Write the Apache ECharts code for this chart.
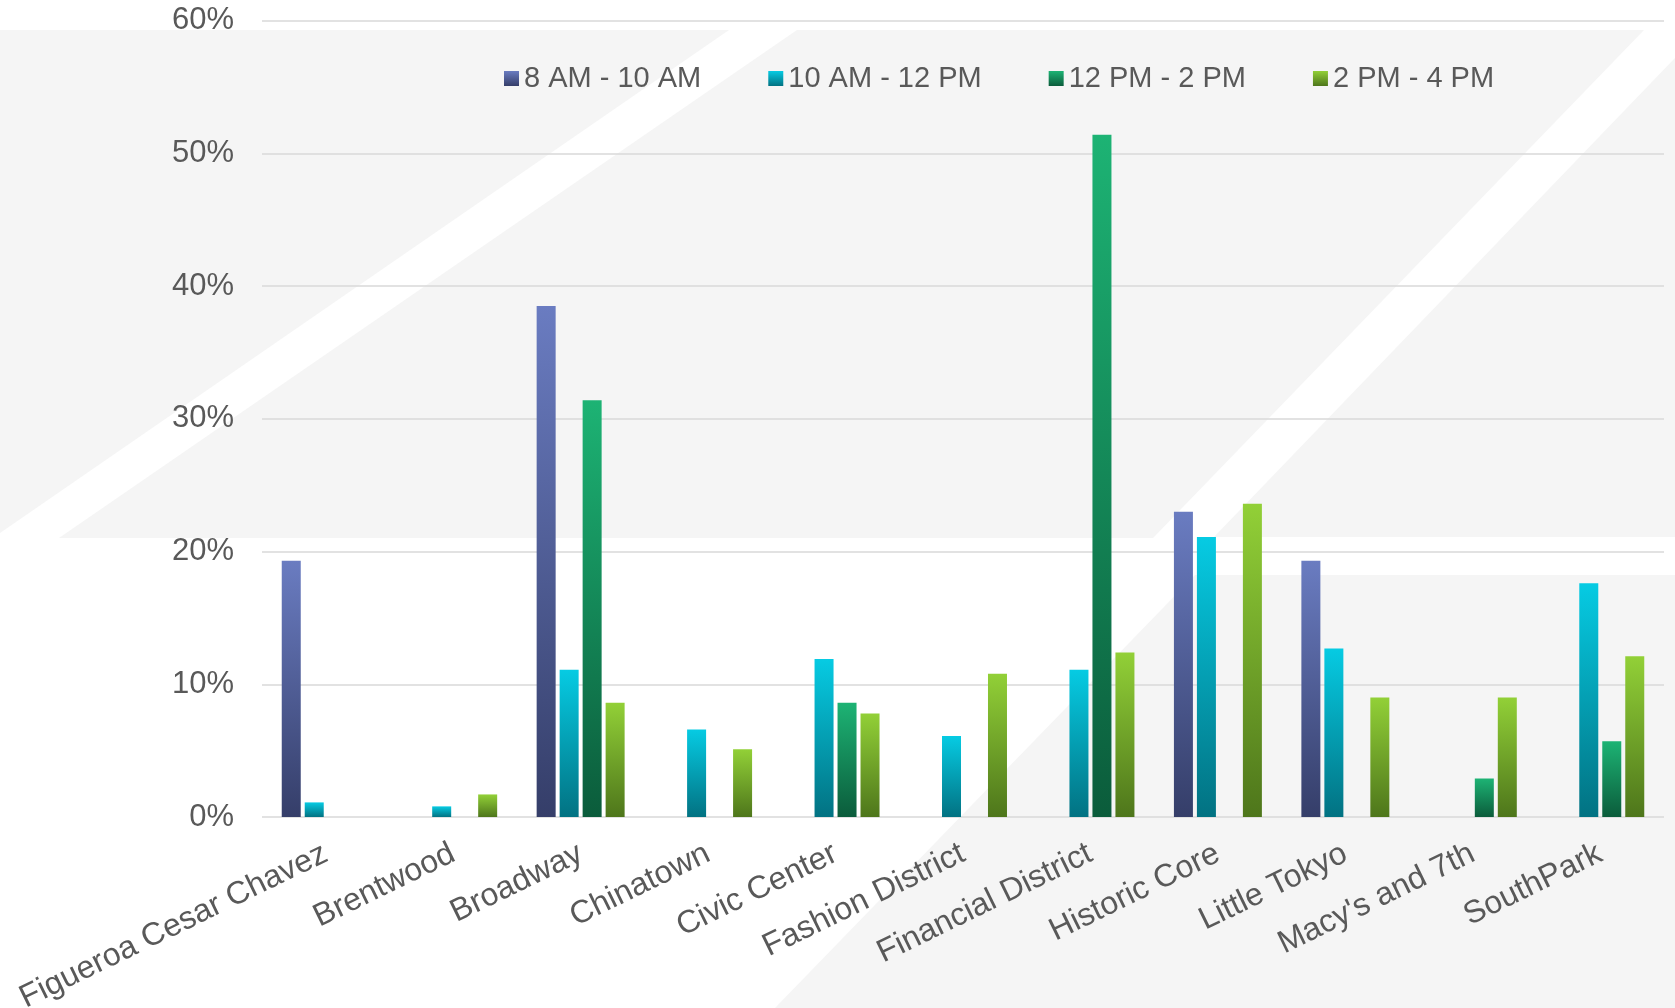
<!DOCTYPE html>
<html>
<head>
<meta charset="utf-8">
<script src="https://cdn.jsdelivr.net/npm/echarts@6/dist/echarts.min.js"></script>
<style>
  html, body { margin: 0; padding: 0; background: #ffffff; }
  #chart { width: 1675px; height: 1008px; }
</style>
</head>
<body>
<div id="chart"></div>
<script>
// Share of trips by neighbourhood for each two-hour window (percent)
const categories = [
  'Figueroa Cesar Chavez', 'Brentwood', 'Broadway', 'Chinatown', 'Civic Center',
  'Fashion District', 'Financial District', 'Historic Core', 'Little Tokyo',
  "Macy's and 7th", 'SouthPark'
];
const seriesNames = ['8 AM - 10 AM', '10 AM - 12 PM', '12 PM - 2 PM', '2 PM - 4 PM'];
const am8to10  = [19.3, null, 38.5, null, null, null, null, 23.0, 19.3, null, null];
const am10to12 = [1.1, 0.8, 11.1, 6.6, 11.9, 6.1, 11.1, 21.1, 12.7, null, 17.6];
const pm12to2  = [null, null, 31.4, null, 8.6, null, 51.4, null, null, 2.9, 5.7];
const pm2to4   = [null, 1.7, 8.6, 5.1, 7.8, 10.8, 12.4, 23.6, 9.0, 9.0, 12.1];
const yTicks = { min: 0, max: 60, interval: 10 };

const textColor = '#595959';
const font = 'Liberation Sans, Arial, sans-serif';

function grad(top, bottom) {
  return new echarts.graphic.LinearGradient(0, 0, 0, 1, [
    { offset: 0, color: top },
    { offset: 1, color: bottom }
  ]);
}
const palette = [
  grad('#6a7cc1', '#353e69'),
  grad('#06cbe3', '#027282'),
  grad('#1db374', '#0b5c3b'),
  grad('#92d037', '#4e761b')
];
const values = [am8to10, am10to12, pm12to2, pm2to4];

const bgFill = '#f5f5f5';

const chart = echarts.init(document.getElementById('chart'), null, { renderer: 'canvas' });
chart.setOption({
  backgroundColor: '#ffffff',
  animation: false,
  graphic: [
    // light panels with white diagonal bands behind the plot
    { type: 'polygon', z: -10, silent: true,
      shape: { points: [[0, 30], [729, 30], [0, 533]] }, style: { fill: bgFill } },
    { type: 'polygon', z: -10, silent: true,
      shape: { points: [[797, 30], [1644, 30], [1153, 538], [59, 538]] }, style: { fill: bgFill } },
    { type: 'polygon', z: -10, silent: true,
      shape: { points: [[1675, 58], [1675, 537], [1214, 537]] }, style: { fill: bgFill } },
    { type: 'polygon', z: -10, silent: true,
      shape: { points: [[1195, 575], [1675, 575], [1675, 1008], [775, 1008]] }, style: { fill: bgFill } }
  ],
  legend: {
    left: 499,
    top: 59,
    itemWidth: 15,
    itemHeight: 15,
    itemGap: 67,
    icon: 'rect',
    textStyle: { color: textColor, fontSize: 29, fontFamily: font },
    data: seriesNames
  },
  grid: {
    left: 262, right: 11, top: 20.5, bottom: 191,
    containLabel: false,
    outerBoundsMode: 'none'
  },
  xAxis: {
    type: 'category',
    data: categories,
    axisLine: { show: false },
    axisTick: { show: false },
    axisLabel: {
      interval: 0,
      rotate: 26,
      margin: 35,
      color: textColor,
      fontSize: 32,
      fontFamily: font
    }
  },
  yAxis: {
    type: 'value',
    min: yTicks.min,
    max: yTicks.max,
    interval: yTicks.interval,
    axisLine: { show: false },
    axisTick: { show: false },
    splitLine: { lineStyle: { color: '#d9d9d9', width: 1.5 } },
    axisLabel: {
      formatter: '{value}%',
      margin: 28,
      color: textColor,
      fontSize: 31,
      fontFamily: font
    }
  },
  series: seriesNames.map((name, i) => ({
    name: name,
    type: 'bar',
    data: values[i],
    barWidth: 19,
    barGap: '21%',
    itemStyle: { color: palette[i] }
  }))
});
</script>
</body>
</html>
